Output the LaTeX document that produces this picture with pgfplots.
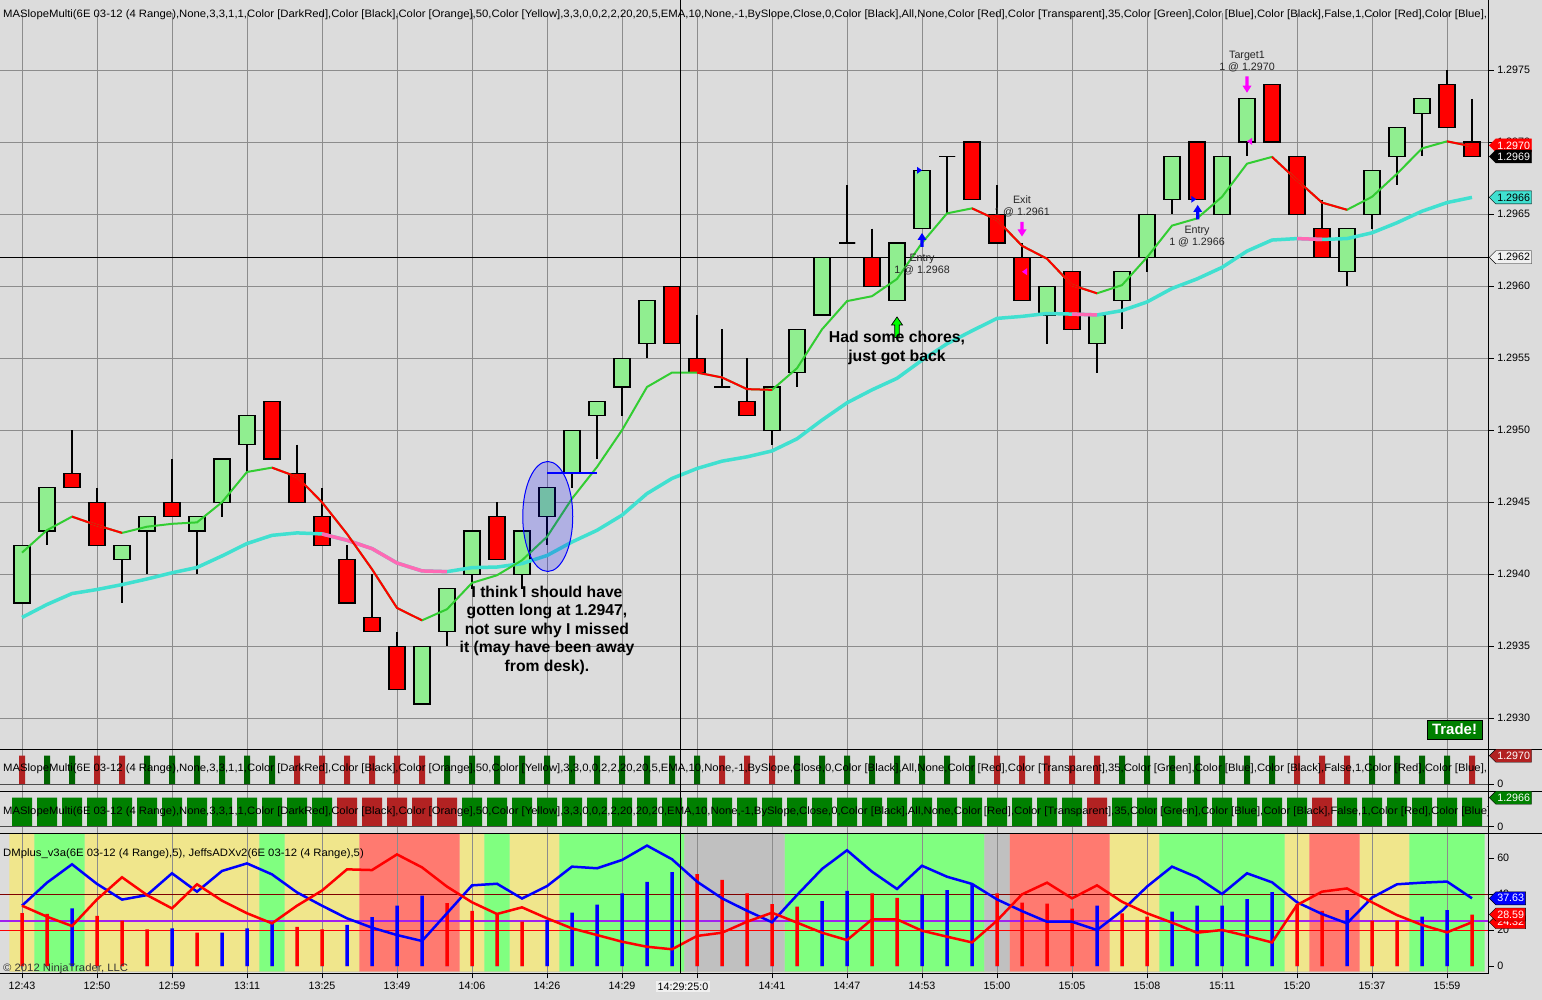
\documentclass[border=0pt]{standalone}
\usepackage{fontspec}
\setmainfont{Liberation Sans}
\usepackage{graphicx}
\usepackage{pgfplots}
\pgfplotsset{compat=1.18}
\usepackage{pgfplotstable}
\usetikzlibrary{shapes.symbols}

\definecolor{bgc}{RGB}{220,220,220}
\definecolor{gridc}{RGB}{140,140,140}
\definecolor{upc}{RGB}{144,238,144}
\definecolor{fastg}{RGB}{50,205,50}
\definecolor{turq}{RGB}{64,224,208}
\definecolor{hotpink}{RGB}{255,105,180}
\definecolor{khaki}{RGB}{240,230,140}
\definecolor{lgreen}{RGB}{128,255,128}
\definecolor{salmonr}{RGB}{255,122,112}
\definecolor{silverc}{RGB}{192,192,192}
\definecolor{dkgreen}{RGB}{0,100,0}
\definecolor{fireb}{RGB}{178,34,34}
\definecolor{grn}{RGB}{0,128,0}
\definecolor{maroonc}{RGB}{128,0,0}
\definecolor{violetc}{RGB}{160,32,240}
\definecolor{magc}{RGB}{255,0,255}
\definecolor{limec}{RGB}{0,255,0}

\newcommand\tfont{\fontsize{10.7}{12}\selectfont}
\newsavebox\titlebox
% up arrow: #1 x, #2 tip (px from top), #3 tail, #4 colour
\newcommand\uparrowpx[4]{\fill[#4] (#1,-#2) -- ++(4.5,-7) -- ++(-2.9,0) |- (#1-1.6,-#3) |- (#1-4.5,-#2-7) -- cycle;}
\newcommand\dnarrowpx[4]{\fill[#4] (#1,-#2) -- ++(4.5,7) -- ++(-2.9,0) |- (#1-1.6,-#3) |- (#1-4.5,-#2+7) -- cycle;}

% prices in pips above 1.2900 (e.g. 42 = 1.2942)
\pgfplotstableread{
i o h l c fast fdn slow sdn
0 38 42 38 42 41.5 nan 37.0 nan
1 43 46 42 46 43.06 nan 37.9 nan
2 47 50 46 46 44.0 44.0 38.66 nan
3 45 46 42 42 43.4 43.4 38.94 nan
4 41 42 38 42 42.87 42.87 39.28 nan
5 43 44 40 44 43.3 nan 39.67 nan
6 45 48 44 44 43.5 nan 40.1 nan
7 43 44 40 44 43.6 nan 40.47 nan
8 45 48 44 48 45.0 nan 41.27 nan
9 49 51 47 51 47.1 nan 42.13 nan
10 52 52 48 48 47.4 47.4 42.7 nan
11 47 49 45 45 46.76 46.76 42.87 nan
12 44 46 42 42 45.0 45.0 42.8 42.8
13 41 42 38 38 42.8 42.8 42.36 42.36
14 37 40 36 36 40.35 40.35 41.78 41.78
15 35 36 32 32 37.66 37.66 40.78 40.78
16 31 35 31 35 36.8 36.8 40.23 40.23
17 36 39 35 39 37.57 nan 40.18 40.18
18 40 43 39 43 39.4 nan 40.46 nan
19 44 45 41 41 39.93 nan 40.5 nan
20 40 43 39 43 40.97 nan 40.74 nan
21 44 46 42 46 42.6 nan 41.3 nan
22 47 50 46 50 45.25 nan 42.24 nan
23 51 52 48 52 47.45 nan 43.05 nan
24 53 55 51 55 50.0 nan 44.1 nan
25 56 59 55 59 53.0 nan 45.6 nan
26 60 60 56 56 54.0 nan 46.65 nan
27 55 58 54 54 54.0 54.0 47.34 nan
28 53 57 53 53 53.66 53.66 47.85 nan
29 52 55 51 51 52.85 52.85 48.15 nan
30 50 53 49 53 52.8 52.8 48.56 nan
31 54 57 53 57 54.3 nan 49.4 nan
32 58 62 58 62 57.0 nan 50.7 nan
33 63 67 63 63 58.96 nan 51.9 nan
34 62 64 60 60 59.3 nan 52.8 nan
35 59 63 59 63 60.5 nan 53.6 nan
36 64 68 64 68 63.0 nan 54.86 nan
37 69 69 65 69 65.05 nan 56.0 nan
38 70 70 66 66 65.4 65.4 56.9 nan
39 65 67 63 63 64.6 64.6 57.76 nan
40 62 63 59 59 62.8 62.8 57.9 nan
41 58 60 56 60 61.9 61.9 58.1 nan
42 61 61 57 57 60.07 60.07 58.06 58.06
43 56 58 54 58 59.5 59.5 58.0 58.0
44 59 61 57 61 60.07 nan 58.3 nan
45 62 65 61 65 62.0 nan 58.9 nan
46 66 69 65 69 64.2 nan 59.84 nan
47 70 70 66 66 64.7 nan 60.5 nan
48 65 69 65 69 66.2 nan 61.3 nan
49 70 73 69 73 68.5 nan 62.43 nan
50 74 74 70 70 68.97 68.97 63.2 nan
51 69 69 65 65 67.36 67.36 63.3 63.3
52 64 66 62 62 65.8 65.8 63.24 63.24
53 61 64 60 64 65.3 65.3 63.3 nan
54 65 68 64 68 66.2 nan 63.7 nan
55 69 71 67 71 67.8 nan 64.4 nan
56 72 73 69 73 69.56 nan 65.2 nan
57 74 75 71 71 70.05 70.05 65.8 nan
58 70 73 69 69 69.7 69.7 66.16 nan
}\candles

\pgfplotstableread{
i dp dm adx ac band p2 p3
0 33.5 33.5 29.4 0 1 0 1
1 46.3 27.4 28.9 0 2 1 1
2 56.5 22.2 32.0 1 2 1 1
3 45.6 37.0 27.8 0 1 0 1
4 36.9 49.3 25.2 0 1 0 1
5 39.4 39.4 20.4 0 1 1 1
6 51.5 32.0 20.9 1 1 1 1
7 41.3 45.4 18.5 0 1 1 1
8 52.8 36.3 18.5 1 1 1 1
9 57.0 29.3 20.9 1 1 1 1
10 50.9 23.7 24.1 1 2 1 1
11 40.9 33.5 21.7 0 1 0 1
12 33.5 41.9 20.4 0 1 0 1
13 26.5 53.7 22.8 1 1 0 0
14 21.3 53.3 27.2 1 3 0 0
15 17.2 62.0 33.5 1 3 0 0
16 13.9 54.8 39.1 1 3 0 0
17 29.3 44.1 35.0 0 3 1 0
18 44.8 35.4 30.6 0 1 1 1
19 45.7 28.9 28.9 0 2 1 1
20 37.5 32.6 24.6 0 1 1 1
21 44.4 26.5 25.6 1 1 1 1
22 55.2 20.9 29.6 1 2 1 1
23 54.3 17.2 34.1 1 2 1 1
24 58.9 13.5 40.4 1 2 1 1
25 66.9 10.7 46.7 1 2 1 1
26 59.3 9.3 52.2 1 2 1 1
27 46.9 16.7 51.1 0 4 1 1
28 37.6 18.5 47.8 0 4 0 1
29 30.7 24.6 40.4 0 4 0 1
30 24.3 29.6 34.4 0 4 0 1
31 39.4 24.1 33.0 0 2 1 1
32 53.9 18.5 36.1 1 2 1 1
33 64.3 14.4 41.7 1 2 1 1
34 52.4 25.9 40.4 0 2 1 1
35 42.8 25.9 37.8 0 2 1 1
36 55.7 19.6 39.6 1 2 1 1
37 49.6 16.3 42.2 1 2 1 1
38 45.6 13.1 45.6 1 2 1 1
39 37.0 25.2 40.4 0 4 0 1
40 30.5 39.8 35.2 0 3 0 1
41 24.6 46.3 34.6 0 3 0 1
42 24.6 37.6 31.9 0 3 0 1
43 20.0 44.8 33.5 1 3 0 0
44 30.7 35.7 29.3 0 1 1 1
45 44.1 29.3 27.4 0 1 1 1
46 55.2 24.1 30.2 1 2 1 1
47 49.3 18.5 33.5 1 2 1 1
48 40.0 20.0 33.5 1 2 1 1
49 51.5 16.7 37.2 1 2 1 1
50 46.5 13.1 41.1 1 2 1 1
51 35.4 33.9 34.3 0 1 0 1
52 28.9 41.3 30.6 0 3 0 0
53 23.7 43.1 31.1 1 3 0 1
54 38.0 35.4 25.2 0 1 1 1
55 45.4 28.3 25.2 0 1 1 1
56 46.3 22.8 27.4 1 2 1 1
57 46.9 18.7 31.1 1 2 1 1
58 37.63 24.32 28.59 0 2 0 1
}\ind

\pgfplotsset{
  base/.style={scale only axis, width=1488.7pt, xmin=-0.88, xmax=58.668,
    anchor=north west, axis line style={draw=none},
    tick style={black, line width=0.8pt}, major tick length=5pt, tick align=outside,
    xtick={0,3,...,57}, grid style={draw=gridc, line width=1pt},
    ticklabel style={font=\tfont}},
  mainy/.style={at={(0pt,-13pt)}, height=736.3pt, ymin=27.848, ymax=78.96},
}
\tikzset{
  pbox/.style={signal, signal to=west, inner xsep=1.5pt, inner ysep=0.5pt,
    minimum height=13pt, anchor=west, font=\tfont},
}

\begin{document}
\sbox\titlebox{\tfont MASlopeMulti(6E 03-12 (4 Range),None,3,3,1,1,Color [DarkRed],Color [Black],Color [Orange],50,Color [Yellow],3,3,0,0,2,2,20,20,5,EMA,10,None,-1,BySlope,Close,0,Color [Black],All,None,Color [Red],Color [Transparent],35,Color [Green],Color [Blue],Color [Black],False,1,Color [Red],Color [Blue],}%
\pgfmathsetmacro\tscale{1484/\the\wd\titlebox}%
\begin{tikzpicture}[x=1pt,y=1pt]
\fill[bgc] (0,0) rectangle (1542,-1000);

% ---------- bottom panel background bands ----------
\begin{axis}[base, at={(0pt,-833.3pt)}, height=138.4pt, ymin=0, ymax=1, hide axis]
\addplot[ybar, bar width=25.2pt, bar shift=0pt, fill=khaki, draw=none] table[x=i, y expr={ifthenelse(\thisrow{band}==1,1,0)}] \ind;
\addplot[ybar, bar width=25.2pt, bar shift=0pt, fill=lgreen, draw=none] table[x=i, y expr={ifthenelse(\thisrow{band}==2,1,0)}] \ind;
\addplot[ybar, bar width=25.2pt, bar shift=0pt, fill=salmonr, draw=none] table[x=i, y expr={ifthenelse(\thisrow{band}==3,1,0)}] \ind;
\addplot[ybar, bar width=25.2pt, bar shift=0pt, fill=silverc, draw=none] table[x=i, y expr={ifthenelse(\thisrow{band}==4,1,0)}] \ind;
\end{axis}

% ---------- main price panel: grid, ticks, wicks ----------
\begin{axis}[base, mainy, xmajorgrids, ymajorgrids, xticklabels={}, xtick style={draw=none},
  ytick={30,35,40,45,50,55,60,65,70,75},
  yticklabels={1.2930,1.2935,1.2940,1.2945,1.2950,1.2955,1.2960,1.2965,1.2970,1.2975},
  ytick pos=right, yticklabel pos=right]
\addplot[draw=none, mark=none, error bars/.cd, y dir=minus, y explicit, error mark=none,
  error bar style={draw=black, line width=2pt, solid}]
  table[x=i, y=h, y error expr=\thisrow{h}-\thisrow{l}] \candles;
\addplot[black, line width=1pt] coordinates {(-0.88,62) (58.668,62)};
\end{axis}

% ---------- candle bodies ----------
\begin{axis}[base, mainy, hide axis, stack plots=y]
\addplot[ybar, bar width=16pt, bar shift=0pt, draw=none, fill=none] table[x=i, y expr={min(\thisrow{o},\thisrow{c})}] \candles;
\addplot[ybar, bar width=16pt, bar shift=0pt, draw=black, line width=1.2pt, fill=upc] table[x=i, y expr={max(\thisrow{c}-\thisrow{o},0)}] \candles;
\addplot[ybar, bar width=16pt, bar shift=0pt, draw=black, line width=1.2pt, fill=red] table[x=i, y expr={max(\thisrow{o}-\thisrow{c},0)}] \candles;
\end{axis}

% ---------- moving averages and trade markers ----------
\begin{axis}[base, mainy, hide axis, clip=false]
\addplot[turq, line width=3.5pt] table[x=i, y=slow] \candles;
\addplot[hotpink, line width=3.5pt, unbounded coords=jump] table[x=i, y=sdn] \candles;
\addplot[fastg, line width=2pt] table[x=i, y=fast] \candles;
\addplot[red, line width=2pt, unbounded coords=jump] table[x=i, y=fdn] \candles;
\addplot[blue, line width=2pt] coordinates {(21,47) (23,47)};
\draw[blue, fill=blue, fill opacity=0.2, line width=1pt] (axis cs:21.03,44.01) ellipse [x radius=25pt, y radius=55pt];
\fill[blue] (axis cs:35.88,68.04) ++(-2pt,3.5pt) -- ++(0pt,-7pt) -- ++(5pt,3.5pt) -- cycle;
\fill[blue] (axis cs:46.85,66.03) ++(-2pt,3.5pt) -- ++(0pt,-7pt) -- ++(5pt,3.5pt) -- cycle;
\fill[magc] (axis cs:40.12,61.0) ++(2pt,3.5pt) -- ++(0pt,-7pt) -- ++(-5pt,3.5pt) -- cycle;
\fill[magc] (axis cs:49.12,70.05) ++(2pt,3.5pt) -- ++(0pt,-7pt) -- ++(-5pt,3.5pt) -- cycle;
\node[font=\tfont, align=center, text=black!85] at (axis cs:36,61.53) {Entry\\1 @ 1.2968};
\node[font=\tfont, align=center, text=black!85] at (axis cs:40,65.56) {Exit\\1 @ 1.2961};
\node[font=\tfont, align=center, text=black!85] at (axis cs:47,63.47) {Entry\\1 @ 1.2966};
\node[font=\tfont, align=center, text=black!85] at (axis cs:49,75.58) {Target1\\1 @ 1.2970};
\end{axis}

% ---------- panel 2 ----------
\begin{axis}[base, at={(0pt,-749.3pt)}, height=42.4pt, ymin=-0.2587, ymax=1.2238,
  xmajorgrids, xticklabels={}, xtick style={draw=none},
  ytick={0}, yticklabels={0}, ytick pos=right, yticklabel pos=right]
\addplot[ybar, bar width=6pt, bar shift=0pt, fill=dkgreen, draw=none] table[x=i, y=p2] \ind;
\addplot[ybar, bar width=6pt, bar shift=0pt, fill=fireb, draw=none] table[x=i, y expr=1-\thisrow{p2}] \ind;
\end{axis}

% ---------- panel 3 ----------
\begin{axis}[base, at={(0pt,-791.7pt)}, height=41.6pt, ymin=-0.2276, ymax=1.2069,
  xmajorgrids, xticklabels={}, xtick style={draw=none},
  ytick={0}, yticklabels={0}, ytick pos=right, yticklabel pos=right]
\addplot[ybar, bar width=20pt, bar shift=0pt, fill=grn, draw=none] table[x=i, y=p3] \ind;
\addplot[ybar, bar width=20pt, bar shift=0pt, fill=fireb, draw=none] table[x=i, y expr=1-\thisrow{p3}] \ind;
\end{axis}

% ---------- panel 4 ----------
\begin{axis}[base, at={(0pt,-833.3pt)}, height=140pt, ymin=-4.056, ymax=73.72,
  xmajorgrids, xtick pos=bottom,
  xticklabels={12:43,12:50,12:59,13:11,13:25,13:49,14:06,14:26,14:29,{},14:41,14:47,14:53,15:00,15:05,15:08,15:11,15:20,15:37,15:59},
  ytick={0,20,40,60}, yticklabels={0,20,40,60}, ytick pos=right, yticklabel pos=right]
\addplot[maroonc, line width=1pt] coordinates {(-0.88,40) (58.668,40)};
\addplot[violetc, line width=1.3pt] coordinates {(-0.88,25) (58.668,25)};
\addplot[red, line width=1pt] coordinates {(-0.88,20) (58.668,20)};
\addplot[ybar, bar width=3.5pt, bar shift=0pt, fill=red, draw=none] table[x=i, y expr={(1-\thisrow{ac})*\thisrow{adx}}] \ind;
\addplot[ybar, bar width=3.5pt, bar shift=0pt, fill=blue, draw=none] table[x=i, y expr={\thisrow{ac}*\thisrow{adx}}] \ind;
\addplot[blue, line width=2.5pt] table[x=i, y=dp] \ind;
\addplot[red, line width=2.5pt] table[x=i, y=dm] \ind;
\end{axis}

% ---------- trade arrows (annotations) ----------
\uparrowpx{922}{233}{247}{blue}
\uparrowpx{1197.7}{205}{219.5}{blue}
\dnarrowpx{1022}{236.5}{222}{magc}
\dnarrowpx{1247}{92.7}{76.5}{magc}
\draw[fill=limec, draw=black, line width=0.7pt]
  (897,-317) -- (902.5,-325) -- (899.3,-325) -- (899.3,-337.5) -- (894.7,-337.5) -- (894.7,-325) -- (891.5,-325) -- cycle;

% ---------- frame lines ----------
\draw[black, line width=1.3pt] (0,-749.3) -- (1542,-749.3);
\draw[black, line width=1.3pt] (0,-791.7) -- (1542,-791.7);
\draw[black, line width=1.3pt] (0,-833.3) -- (1542,-833.3);
\draw[black, line width=1.3pt] (0,-973.3) -- (1488.7,-973.3);
\draw[black!70, line width=1pt] (0,-784.3) -- (1488.7,-784.3);
\draw[black!70, line width=1pt] (0,-826.7) -- (1488.7,-826.7);
\draw[black, line width=1.3pt] (1488.7,0) -- (1488.7,-973.3);
\draw[black, line width=1pt] (680,0) -- (680,-973.3);

% ---------- texts ----------
\begin{scope}
\clip (0,0) rectangle (1488.7,-1000);
\node[anchor=base west, inner sep=0pt] at (3,-17.3) {\scalebox{\tscale}[1]{\usebox\titlebox}};
\node[anchor=base west, inner sep=0pt] at (3,-771) {\scalebox{\tscale}[1]{\usebox\titlebox}};
\node[anchor=base west, inner sep=0pt] at (3,-814) {\scalebox{\tscale}[1]{\tfont MASlopeMulti(6E 03-12 (4 Range),None,3,3,1,1,Color [DarkRed],Color [Black],Color [Orange],50,Color [Yellow],3,3,0,0,2,2,20,20,20,EMA,10,None,-1,BySlope,Close,0,Color [Black],All,None,Color [Red],Color [Transparent],35,Color [Green],Color [Blue],Color [Black],False,1,Color [Red],Color [Blue],}};
\node[anchor=base west, inner sep=0pt] at (3,-856) {\scalebox{\tscale}[1]{\tfont DMplus\_v3a(6E 03-12 (4 Range),5), JeffsADXv2(6E 03-12 (4 Range),5)}};
\node[anchor=base west, inner sep=0pt, text=black!80] at (3,-971) {\scalebox{\tscale}[1]{\tfont \textcopyright\ 2012 NinjaTrader, LLC}};
\end{scope}

\node[font=\fontsize{15.7}{18.5}\selectfont\bfseries, align=center] at (547,-630) {I think I should have\\gotten long at 1.2947,\\not sure why I missed\\it (may have been away\\from desk).};
\node[font=\fontsize{15.8}{19}\selectfont\bfseries, align=center] at (897,-347.5) {Had some chores,\\just got back};
\node[fill=grn, draw=black, line width=1pt, text=white, font=\fontsize{15}{16}\selectfont\bfseries, minimum width=55pt, minimum height=19pt, inner sep=0pt] at (1454.5,-729.5) {Trade!};

% crosshair time label
\node[fill=black!6, font=\tfont, inner sep=1.5pt] at (683,-986.7) {14:29:25:0};

% ---------- right-side value boxes ----------
\node[pbox, fill=red, draw=red, text=white] at (1489,-145.4) {1.2970};
\node[pbox, fill=black, draw=black, text=white] at (1489,-156.5) {1.2969};
\node[pbox, fill=turq, draw=black, text=black] at (1489,-197.4) {1.2966};
\node[pbox, fill=black!6, draw=black, text=black] at (1489,-257.3) {1.2962};
\node[pbox, fill=fireb, draw=black, text=white] at (1489,-755.7) {1.2970};
\node[pbox, fill=grn, draw=black, text=white] at (1489,-797.7) {1.2966};
\node[pbox, fill=red, draw=black, text=white] at (1489,-922.2) {24.32};
\node[pbox, fill=red, draw=black, text=white] at (1489,-914.5) {28.59};
\node[pbox, fill=blue, draw=black, text=white] at (1489,-898.3) {37.63};

\pgfresetboundingbox
\useasboundingbox (0,0) rectangle (1542,-1000);
\end{tikzpicture}
\end{document}
